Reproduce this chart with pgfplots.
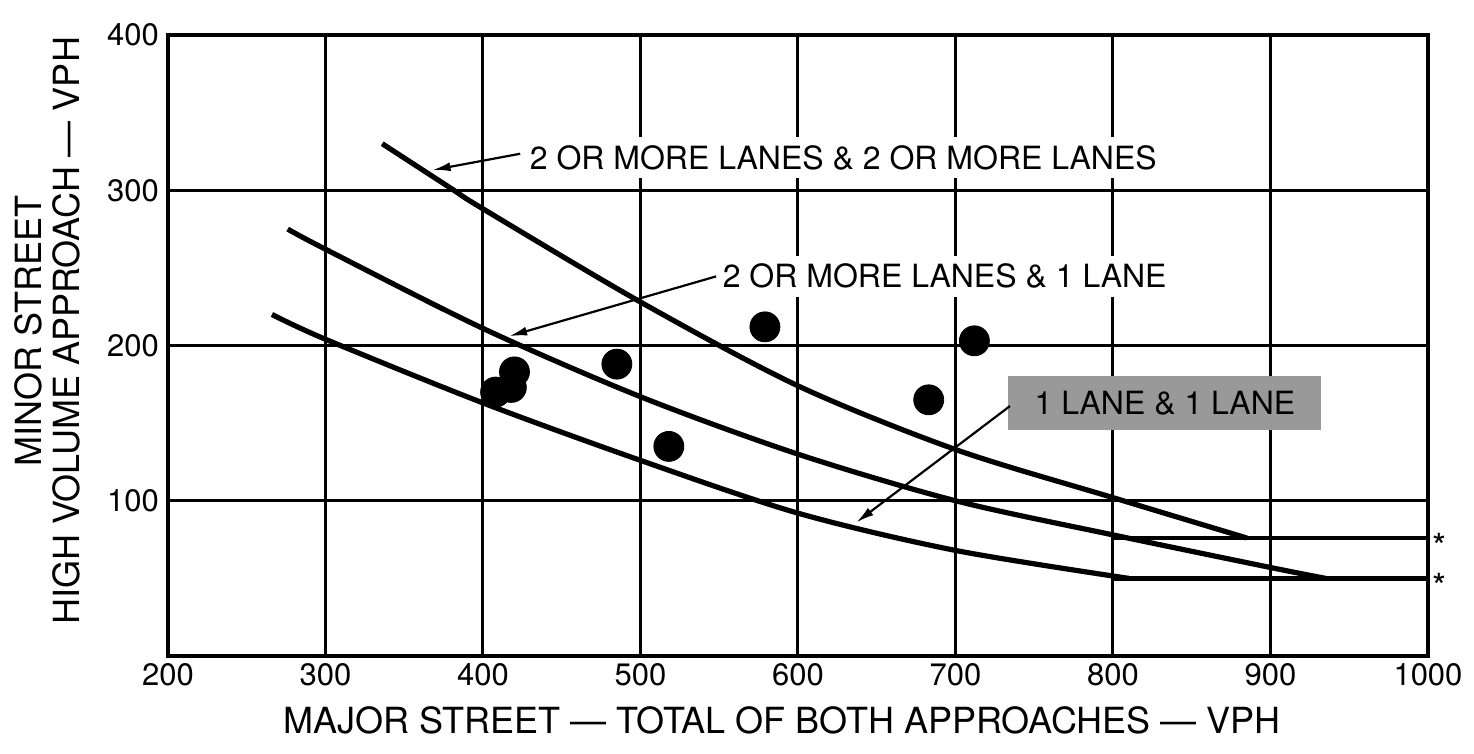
\documentclass[border=0pt]{standalone}
\usepackage{fontspec}
\setmainfont{TeX Gyre Heros}
\usepackage{pgfplots}
\pgfplotsset{compat=1.18}
\usetikzlibrary{arrows.meta}
\begin{document}
\begin{tikzpicture}
\useasboundingbox (-84pt,-49pt) rectangle (653pt,328pt);
\begin{axis}[
  at={(0pt,0pt)}, anchor=south west,
  scale only axis, width=630pt, height=310.5pt,
  xmin=200, xmax=1000, ymin=0, ymax=400,
  xtick={200,300,400,500,600,700,800,900,1000},
  xticklabels={200,300,400,500,600,700,800,900,1000},
  ytick={100,200,300,400},
  yticklabels={100,200,300,400},
  major tick length=0pt,
  grid=major,
  grid style={black, line width=1.5pt},
  axis line style={black, line width=2pt},
  tick label style={font=\fontsize{15.5}{18}\selectfont, text=black},
  yticklabel style={xshift=-1pt},
  clip=false,
]
% 2 or more lanes & 2 or more lanes
\addplot[black, line width=2.6pt, smooth] coordinates {
 (336,330) (380,301) (400,288) (500,228) (600,174) (700,133) (800,102) (885,76)};
\addplot[black, line width=2.4pt] coordinates {(800,76) (1000,76)};
% 2 or more lanes & 1 lane
\addplot[black, line width=2.6pt, smooth] coordinates {
 (276,275) (300,262) (400,211) (500,167) (600,130) (700,100) (800,78) (900,57) (935,50)};
% 1 lane & 1 lane
\addplot[black, line width=2.6pt, smooth] coordinates {
 (266,220) (300,204) (400,163) (500,126) (600,92) (700,68) (810,50)};
\addplot[black, line width=2.4pt] coordinates {(800,50) (1000,50)};
% observed intersections
\addplot[only marks, mark=*, mark size=7.5pt, black] coordinates {
 (408,170) (418,173) (420,183) (485,188) (518,135) (579,212) (683,165) (712,203)};
% annotations
\draw[black, line width=1.1pt, -{Latex[length=9pt,width=4.5pt]}] (axis cs:423.6,323.5) -- (axis cs:368,313);
\node[anchor=west, fill=white, inner xsep=2pt, inner ysep=4pt, xshift=-2pt, font=\fontsize{16}{18}\selectfont] at (axis cs:429.5,321) {2 OR MORE LANES \& 2 OR MORE LANES};
\draw[black, line width=1.1pt, -{Latex[length=9pt,width=4.5pt]}] (axis cs:548,244.5) -- (axis cs:416.6,206);
\node[anchor=west, fill=white, inner xsep=2pt, inner ysep=4pt, xshift=-2pt, font=\fontsize{16}{18}\selectfont] at (axis cs:552,244.5) {2 OR MORE LANES \& 1 LANE};
\node[fill=black!40, minimum width=156.5pt, minimum height=27pt, inner sep=0pt, font=\fontsize{16}{18}\selectfont] at (axis cs:833,163) {1 LANE \& 1 LANE};
\draw[black, line width=1.1pt, -{Latex[length=9pt,width=4.5pt]}] (axis cs:734.6,161) -- (axis cs:637,86);
\node[anchor=west, inner sep=0pt, xshift=2pt, yshift=-4pt, font=\fontsize{18}{18}\selectfont] at (axis cs:1000,76) {*};
\node[anchor=west, inner sep=0pt, xshift=2pt, yshift=-4pt, font=\fontsize{18}{18}\selectfont] at (axis cs:1000,50) {*};
\end{axis}
\node[inner sep=0pt, font=\fontsize{18}{20}\selectfont] at (307pt,-32.25pt) {MAJOR STREET --- TOTAL OF BOTH APPROACHES --- VPH};
\node[rotate=90, align=center, inner sep=0pt, font=\fontsize{18}{19}\selectfont] at (-60.5pt,162.5pt) {MINOR STREET\\HIGH VOLUME APPROACH --- VPH};
\end{tikzpicture}
\end{document}
